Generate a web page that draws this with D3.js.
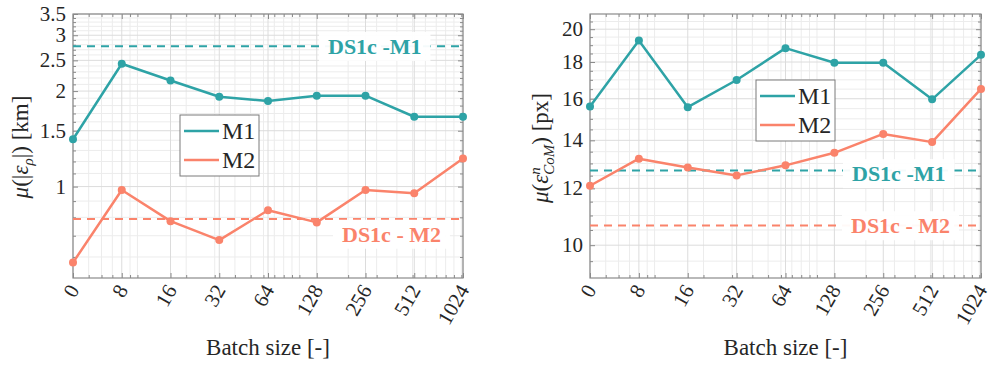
<!DOCTYPE html>
<html>
<head>
<meta charset="utf-8">
<script src="https://cdn.jsdelivr.net/npm/d3@7"></script>
<style>
  html, body { margin: 0; padding: 0; background: #fff; }
  svg { display: block; }
</style>
</head>
<body>
<svg id="chart" width="993" height="365"></svg>
<script>
// Batch sizes (0 is drawn at position 4 on the log2-spaced axis)
const batchLabels = ["0", "8", "16", "32", "64", "128", "256", "512", "1024"];
const batchPos = [4, 8, 16, 32, 64, 128, 256, 512, 1024];

// Left panel: mean range error [km]
const rangeM1 = [1.41, 2.44, 2.16, 1.92, 1.86, 1.935, 1.935, 1.66, 1.66];
const rangeM2 = [0.576, 0.976, 0.778, 0.678, 0.842, 0.771, 0.976, 0.953, 1.227];
const rangeRefM1 = 2.77;
const rangeRefM2 = 0.79;
const rangeTicks = [1, 1.5, 2, 2.5, 3, 3.5];

// Right panel: mean centre-of-mass error [px]
const comM1 = [15.6, 19.29, 15.57, 16.99, 18.82, 17.96, 17.96, 15.97, 18.42];
const comM2 = [12.1, 13.2, 12.83, 12.51, 12.92, 13.45, 14.29, 13.92, 16.51];
const comRefM1 = 12.71;
const comRefM2 = 10.65;
const comTicks = [10, 12, 14, 16, 18, 20];

const seriesNames = ["M1", "M2"];
const teal = "#2ea3a6";
const salmon = "#fa836b";
const serif = "'Liberation Serif'";

const svg = d3.select("#chart");

function minorX() {
  const v = [5, 6, 7, 9];
  for (let k = 1; k <= 9; k++) v.push(k * 10);
  for (let k = 1; k <= 9; k++) v.push(k * 100);
  v.push(1000);
  return v.filter(d => d >= 4 && d <= 1024 && batchPos.indexOf(d) < 0);
}

function label(sel) {
  return sel.style("font-family", serif).attr("fill", "#262626");
}

function drawPanel(opt) {
  const g = svg.append("g");
  const x = d3.scaleLog().domain([4, 1024]).range([opt.x0, opt.x1]);
  const y = d3.scaleLog().domain(opt.yDomain).range([opt.y1, opt.y0]);

  // grid: minor then major
  const mx = minorX();
  g.append("g").selectAll("line").data(mx).join("line")
    .attr("x1", d => x(d)).attr("x2", d => x(d))
    .attr("y1", opt.y0).attr("y2", opt.y1)
    .attr("stroke", "#ececec").attr("stroke-width", 1);
  g.append("g").selectAll("line").data(opt.yMinor).join("line")
    .attr("y1", d => y(d)).attr("y2", d => y(d))
    .attr("x1", opt.x0).attr("x2", opt.x1)
    .attr("stroke", "#ececec").attr("stroke-width", 1);
  g.append("g").selectAll("line").data(batchPos).join("line")
    .attr("x1", d => x(d)).attr("x2", d => x(d))
    .attr("y1", opt.y0).attr("y2", opt.y1)
    .attr("stroke", "#dcdcdc").attr("stroke-width", 1);
  g.append("g").selectAll("line").data(opt.yTicks).join("line")
    .attr("y1", d => y(d)).attr("y2", d => y(d))
    .attr("x1", opt.x0).attr("x2", opt.x1)
    .attr("stroke", "#dcdcdc").attr("stroke-width", 1);

  // frame
  g.append("rect")
    .attr("x", opt.x0).attr("y", opt.y0)
    .attr("width", opt.x1 - opt.x0).attr("height", opt.y1 - opt.y0)
    .attr("fill", "none").attr("stroke", "#8a8a8a").attr("stroke-width", 1.2);

  // inward ticks via axes
  const axB = d3.axisTop(x).tickValues(batchPos).tickFormat("").tickSize(5).tickSizeOuter(0);
  const axBm = d3.axisTop(x).tickValues(mx).tickFormat("").tickSize(3).tickSizeOuter(0);
  const axT = d3.axisBottom(x).tickValues(batchPos).tickFormat("").tickSize(5).tickSizeOuter(0);
  const axTm = d3.axisBottom(x).tickValues(mx).tickFormat("").tickSize(3).tickSizeOuter(0);
  const axL = d3.axisRight(y).tickValues(opt.yTicks).tickFormat("").tickSize(5).tickSizeOuter(0);
  const axLm = d3.axisRight(y).tickValues(opt.yMinor).tickFormat("").tickSize(3).tickSizeOuter(0);
  const axR = d3.axisLeft(y).tickValues(opt.yTicks).tickFormat("").tickSize(5).tickSizeOuter(0);
  const axRm = d3.axisLeft(y).tickValues(opt.yMinor).tickFormat("").tickSize(3).tickSizeOuter(0);
  [[axB, `translate(0,${opt.y1})`], [axBm, `translate(0,${opt.y1})`],
   [axT, `translate(0,${opt.y0})`], [axTm, `translate(0,${opt.y0})`],
   [axL, `translate(${opt.x0},0)`], [axLm, `translate(${opt.x0},0)`],
   [axR, `translate(${opt.x1},0)`], [axRm, `translate(${opt.x1},0)`]].forEach(([ax, t]) => {
    const a = g.append("g").attr("transform", t).call(ax);
    a.select(".domain").remove();
    a.selectAll("line").attr("stroke", "#8a8a8a");
  });

  // y tick labels
  label(g.append("g").selectAll("text").data(opt.yTicks).join("text"))
    .attr("x", opt.x0 - 7).attr("y", d => y(d)).attr("dy", "0.33em")
    .attr("text-anchor", "end").attr("font-size", 21)
    .text(d => String(d));

  // x tick labels, rotated
  label(g.append("g").selectAll("text").data(batchPos).join("text"))
    .attr("text-anchor", "end").attr("font-size", 21)
    .attr("transform", d => `translate(${x(d) + 7},${opt.y1 + 12}) rotate(-60)`)
    .text((d, i) => batchLabels[i]);

  // x axis title
  label(g.append("text"))
    .attr("x", (opt.x0 + opt.x1) / 2).attr("y", 355)
    .attr("text-anchor", "middle").attr("font-size", 23)
    .text("Batch size [-]");

  // y axis title
  const yt = label(g.append("text"))
    .attr("transform", `translate(${opt.titleX},${opt.titleY}) rotate(-90)`)
    .attr("text-anchor", "middle").attr("font-size", 23);
  opt.title(yt);

  // reference dashed lines with labels
  opt.refs.forEach(r => {
    g.append("line")
      .attr("x1", opt.x0).attr("x2", opt.x1)
      .attr("y1", y(r.v)).attr("y2", y(r.v))
      .attr("stroke", r.color).attr("stroke-width", 2)
      .attr("stroke-dasharray", "8,6");
    const ty = y(r.v) + r.dy;
    const t = label(g.append("text"))
      .attr("x", r.tx).attr("y", ty).attr("dy", "0.35em")
      .attr("font-size", 22).attr("font-weight", "bold")
      .attr("fill", r.color)
      .text(r.label);
    const bb = t.node().getBBox();
    g.insert("rect", () => t.node())
      .attr("x", bb.x - 9).attr("y", bb.y - 2)
      .attr("width", bb.width + 18).attr("height", bb.height + 4)
      .attr("fill", "#fff").attr("opacity", 0.95);
  });

  // series
  const seriesData = [[opt.m1, teal], [opt.m2, salmon]];
  const line = d3.line().x((d, i) => x(batchPos[i])).y(d => y(d));
  seriesData.forEach(([vals, color]) => {
    g.append("path").datum(vals)
      .attr("d", line).attr("fill", "none")
      .attr("stroke", color).attr("stroke-width", 2.5)
      .attr("stroke-linejoin", "round");
    g.append("g").selectAll("circle").data(vals).join("circle")
      .attr("cx", (d, i) => x(batchPos[i])).attr("cy", d => y(d))
      .attr("r", 4).attr("fill", color);
  });

  // legend
  const lg = g.append("g").attr("transform", `translate(${opt.legX},${opt.legY})`);
  lg.append("rect").attr("width", 79).attr("height", 61)
    .attr("fill", "#fff").attr("stroke", "#7a7a7a").attr("stroke-width", 1);
  seriesNames.forEach((name, i) => {
    const ly = 16 + i * 29;
    lg.append("line").attr("x1", 4).attr("x2", 39).attr("y1", ly).attr("y2", ly)
      .attr("stroke", i === 0 ? teal : salmon).attr("stroke-width", 2.5);
    label(lg.append("text")).attr("x", 42).attr("y", ly).attr("dy", "0.35em")
      .attr("font-size", 24).text(name);
  });
}

function minorRange(lo, hi, step, skip) {
  const out = [];
  for (let v = lo; v <= hi + 1e-9; v += step) {
    const r = Math.round(v * 100) / 100;
    if (skip.indexOf(r) < 0) out.push(r);
  }
  return out;
}

drawPanel({
  x0: 73, x1: 463, y0: 14, y1: 278,
  yDomain: [0.515, 3.5],
  yTicks: rangeTicks,
  yMinor: minorRange(0.6, 3.4, 0.1, rangeTicks),
  m1: rangeM1, m2: rangeM2,
  refs: [
    { v: rangeRefM1, color: teal, label: "DS1c -M1", tx: 328, dy: 0 },
    { v: rangeRefM2, color: salmon, label: "DS1c - M2", tx: 342, dy: 15 }
  ],
  legX: 180, legY: 115,
  titleX: 28, titleY: 147,
  title: t => {
    t.append("tspan").attr("font-style", "italic").text("μ");
    t.append("tspan").text("(|");
    t.append("tspan").attr("font-style", "italic").text("ε");
    t.append("tspan").attr("font-style", "italic").attr("font-size", 15).attr("dy", 5).text("ρ");
    t.append("tspan").attr("dy", -5).text("|) [km]");
  }
});

drawPanel({
  x0: 590, x1: 981, y0: 14, y1: 278,
  yDomain: [9, 21],
  yTicks: comTicks,
  yMinor: minorRange(9.5, 20.5, 0.5, comTicks),
  m1: comM1, m2: comM2,
  refs: [
    { v: comRefM1, color: teal, label: "DS1c -M1", tx: 852, dy: 3 },
    { v: comRefM2, color: salmon, label: "DS1c - M2", tx: 851, dy: 0 }
  ],
  legX: 756, legY: 80,
  titleX: 548, titleY: 148,
  title: t => {
    t.append("tspan").attr("font-style", "italic").text("μ");
    t.append("tspan").text("(");
    t.append("tspan").attr("font-style", "italic").text("ε");
    t.append("tspan").attr("font-style", "italic").attr("font-size", 15).attr("dy", -8).text("n");
    t.append("tspan").attr("font-style", "italic").attr("font-size", 15).attr("dx", -7.5).attr("dy", 14).text("CoM");
    t.append("tspan").attr("dy", -6).text(") [px]");
  }
});
</script>
</body>
</html>
